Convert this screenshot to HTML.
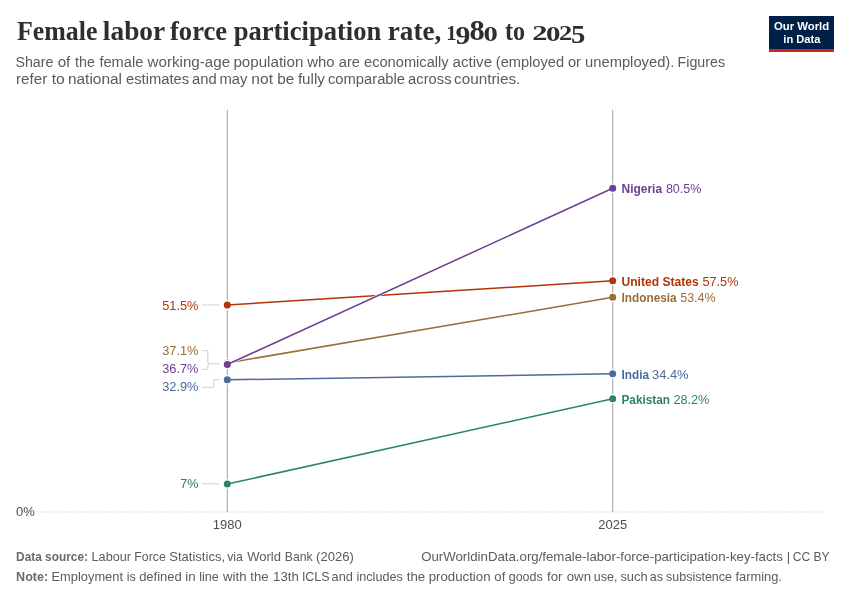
<!DOCTYPE html>
<html><head><meta charset="utf-8">
<style>
html,body{margin:0;padding:0;background:#fff;width:850px;height:600px;overflow:hidden}
svg{display:block;will-change:transform}
text{font-family:"Liberation Sans",sans-serif}
.serif{font-family:"Liberation Serif",serif}
</style></head>
<body>
<svg width="850" height="600" viewBox="0 0 850 600">
<rect width="850" height="600" fill="#fff"/>
<text x="16.96" y="40.2" font-size="26.5" fill="#2e2e2e" class="serif" font-weight="bold" textLength="80.47" lengthAdjust="spacingAndGlyphs">Female</text>
<text x="102.88" y="40.2" font-size="26.5" fill="#2e2e2e" class="serif" font-weight="bold" textLength="62.3" lengthAdjust="spacingAndGlyphs">labor</text>
<text x="170.0" y="40.2" font-size="26.5" fill="#2e2e2e" class="serif" font-weight="bold" textLength="57.19" lengthAdjust="spacingAndGlyphs">force</text>
<text x="233.65" y="40.2" font-size="26.5" fill="#2e2e2e" class="serif" font-weight="bold" textLength="147.63" lengthAdjust="spacingAndGlyphs">participation</text>
<text x="387.78" y="40.2" font-size="26.5" fill="#2e2e2e" class="serif" font-weight="bold" textLength="53.57" lengthAdjust="spacingAndGlyphs">rate,</text>
<text x="446.17" y="40.4" font-size="20.2" fill="#2e2e2e" class="serif" font-weight="bold" textLength="10.3" lengthAdjust="spacingAndGlyphs">1</text>
<text x="455.48" y="44.2" font-size="25.5" fill="#2e2e2e" class="serif" font-weight="bold" textLength="14.87" lengthAdjust="spacingAndGlyphs">9</text>
<text x="469.48" y="40.4" font-size="28.5" fill="#2e2e2e" class="serif" font-weight="bold" textLength="15.23" lengthAdjust="spacingAndGlyphs">8</text>
<text x="483.54" y="40.6" font-size="20.2" fill="#2e2e2e" class="serif" font-weight="bold" textLength="14.33" lengthAdjust="spacingAndGlyphs">0</text>
<text x="504.94" y="40.2" font-size="26.5" fill="#2e2e2e" class="serif" font-weight="bold" textLength="20.05" lengthAdjust="spacingAndGlyphs">to</text>
<text x="532.21" y="40.4" font-size="20.2" fill="#2e2e2e" class="serif" font-weight="bold" textLength="15.27" lengthAdjust="spacingAndGlyphs">2</text>
<text x="546.13" y="40.6" font-size="20.2" fill="#2e2e2e" class="serif" font-weight="bold" textLength="14.45" lengthAdjust="spacingAndGlyphs">0</text>
<text x="559.09" y="40.4" font-size="20.2" fill="#2e2e2e" class="serif" font-weight="bold" textLength="13.23" lengthAdjust="spacingAndGlyphs">2</text>
<text x="571.07" y="43.3" font-size="24.2" fill="#2e2e2e" class="serif" font-weight="bold" textLength="14.4" lengthAdjust="spacingAndGlyphs">5</text>
<text x="15.41" y="66.5" font-size="15.5" fill="#5b5b5b" textLength="38.09" lengthAdjust="spacingAndGlyphs">Share</text>
<text x="57.65" y="66.5" font-size="15.5" fill="#5b5b5b" textLength="12.64" lengthAdjust="spacingAndGlyphs">of</text>
<text x="74.97" y="66.5" font-size="15.5" fill="#5b5b5b" textLength="19.93" lengthAdjust="spacingAndGlyphs">the</text>
<text x="99.41" y="66.5" font-size="15.5" fill="#5b5b5b" textLength="43.92" lengthAdjust="spacingAndGlyphs">female</text>
<text x="147.6" y="66.5" font-size="15.5" fill="#5b5b5b" textLength="82.47" lengthAdjust="spacingAndGlyphs">working-age</text>
<text x="233.39" y="66.5" font-size="15.5" fill="#5b5b5b" textLength="69.95" lengthAdjust="spacingAndGlyphs">population</text>
<text x="307.3" y="66.5" font-size="15.5" fill="#5b5b5b" textLength="27.36" lengthAdjust="spacingAndGlyphs">who</text>
<text x="338.79" y="66.5" font-size="15.5" fill="#5b5b5b" textLength="21.13" lengthAdjust="spacingAndGlyphs">are</text>
<text x="363.99" y="66.5" font-size="15.5" fill="#5b5b5b" textLength="84.66" lengthAdjust="spacingAndGlyphs">economically</text>
<text x="452.57" y="66.5" font-size="15.5" fill="#5b5b5b" textLength="39.51" lengthAdjust="spacingAndGlyphs">active</text>
<text x="495.8" y="66.5" font-size="15.5" fill="#5b5b5b" textLength="68.26" lengthAdjust="spacingAndGlyphs">(employed</text>
<text x="567.88" y="66.5" font-size="15.5" fill="#5b5b5b" textLength="13.08" lengthAdjust="spacingAndGlyphs">or</text>
<text x="585.05" y="66.5" font-size="15.5" fill="#5b5b5b" textLength="89.3" lengthAdjust="spacingAndGlyphs">unemployed).</text>
<text x="677.52" y="66.5" font-size="15.5" fill="#5b5b5b" textLength="47.6" lengthAdjust="spacingAndGlyphs">Figures</text>
<text x="16.08" y="84.4" font-size="15.5" fill="#5b5b5b" textLength="31.09" lengthAdjust="spacingAndGlyphs">refer</text>
<text x="51.68" y="84.4" font-size="15.5" fill="#5b5b5b" textLength="13.07" lengthAdjust="spacingAndGlyphs">to</text>
<text x="67.95" y="84.4" font-size="15.5" fill="#5b5b5b" textLength="54.09" lengthAdjust="spacingAndGlyphs">national</text>
<text x="126.01" y="84.4" font-size="15.5" fill="#5b5b5b" textLength="63.16" lengthAdjust="spacingAndGlyphs">estimates</text>
<text x="192.11" y="84.4" font-size="15.5" fill="#5b5b5b" textLength="24.63" lengthAdjust="spacingAndGlyphs">and</text>
<text x="219.57" y="84.4" font-size="15.5" fill="#5b5b5b" textLength="27.88" lengthAdjust="spacingAndGlyphs">may</text>
<text x="251.34" y="84.4" font-size="15.5" fill="#5b5b5b" textLength="21.65" lengthAdjust="spacingAndGlyphs">not</text>
<text x="277.22" y="84.4" font-size="15.5" fill="#5b5b5b" textLength="16.96" lengthAdjust="spacingAndGlyphs">be</text>
<text x="297.9" y="84.4" font-size="15.5" fill="#5b5b5b" textLength="27.06" lengthAdjust="spacingAndGlyphs">fully</text>
<text x="327.96" y="84.4" font-size="15.5" fill="#5b5b5b" textLength="77.12" lengthAdjust="spacingAndGlyphs">comparable</text>
<text x="408.07" y="84.4" font-size="15.5" fill="#5b5b5b" textLength="43.47" lengthAdjust="spacingAndGlyphs">across</text>
<text x="454.06" y="84.4" font-size="15.5" fill="#5b5b5b" textLength="66.22" lengthAdjust="spacingAndGlyphs">countries.</text>
<rect x="769" y="16" width="65" height="33" fill="#002147"/>
<rect x="769" y="49" width="65" height="3" fill="#ce261e"/>
<text x="774" y="30.3" font-size="11.5" fill="#fff" font-weight="bold" textLength="55.2" lengthAdjust="spacingAndGlyphs">Our World</text>
<text x="783.3" y="43" font-size="11.5" fill="#fff" font-weight="bold" textLength="37.2" lengthAdjust="spacingAndGlyphs">in Data</text>
<line x1="39.5" y1="512" x2="823" y2="512" stroke="#ddd" stroke-width="1" stroke-dasharray="3,2"/>
<text x="16" y="516.2" font-size="13" fill="#4e4e4e">0%</text>
<line x1="227.3" y1="110" x2="227.3" y2="512" stroke="#a1a1a1" stroke-width="1"/>
<line x1="612.7" y1="110" x2="612.7" y2="512" stroke="#a1a1a1" stroke-width="1"/>
<text x="227.3" y="529.2" font-size="13" fill="#4e4e4e" text-anchor="middle">1980</text>
<text x="612.7" y="529.2" font-size="13" fill="#4e4e4e" text-anchor="middle">2025</text>
<g><circle cx="227.3" cy="484.03" r="4.7" fill="#fff"/><circle cx="612.7" cy="398.72" r="4.7" fill="#fff"/>
<line x1="227.3" y1="484.03" x2="612.7" y2="398.72" stroke="#fff" stroke-width="2.7"/>
<line x1="227.3" y1="484.03" x2="612.7" y2="398.72" stroke="#2c8465" stroke-width="1.5"/>
<circle cx="227.3" cy="484.03" r="3.5" fill="#2c8465"/><circle cx="612.7" cy="398.72" r="3.5" fill="#2c8465"/></g>
<g><circle cx="227.3" cy="379.81" r="4.7" fill="#fff"/><circle cx="612.7" cy="373.77" r="4.7" fill="#fff"/>
<line x1="227.3" y1="379.81" x2="612.7" y2="373.77" stroke="#fff" stroke-width="2.7"/>
<line x1="227.3" y1="379.81" x2="612.7" y2="373.77" stroke="#4c6a9c" stroke-width="1.5"/>
<circle cx="227.3" cy="379.81" r="3.5" fill="#4c6a9c"/><circle cx="612.7" cy="373.77" r="3.5" fill="#4c6a9c"/></g>
<g><circle cx="227.3" cy="362.91" r="4.7" fill="#fff"/><circle cx="612.7" cy="297.32" r="4.7" fill="#fff"/>
<line x1="227.3" y1="362.91" x2="612.7" y2="297.32" stroke="#fff" stroke-width="2.7"/>
<line x1="227.3" y1="362.91" x2="612.7" y2="297.32" stroke="#996d39" stroke-width="1.5"/>
<circle cx="227.3" cy="362.91" r="3.5" fill="#996d39"/><circle cx="612.7" cy="297.32" r="3.5" fill="#996d39"/></g>
<g><circle cx="227.3" cy="304.96" r="4.7" fill="#fff"/><circle cx="612.7" cy="280.82" r="4.7" fill="#fff"/>
<line x1="227.3" y1="304.96" x2="612.7" y2="280.82" stroke="#fff" stroke-width="2.7"/>
<line x1="227.3" y1="304.96" x2="612.7" y2="280.82" stroke="#b13507" stroke-width="1.5"/>
<circle cx="227.3" cy="304.96" r="3.5" fill="#b13507"/><circle cx="612.7" cy="280.82" r="3.5" fill="#b13507"/></g>
<g><circle cx="227.3" cy="364.52" r="4.7" fill="#fff"/><circle cx="612.7" cy="188.27" r="4.7" fill="#fff"/>
<line x1="227.3" y1="364.52" x2="612.7" y2="188.27" stroke="#fff" stroke-width="2.7"/>
<line x1="227.3" y1="364.52" x2="612.7" y2="188.27" stroke="#6d3e91" stroke-width="1.5"/>
<circle cx="227.3" cy="364.52" r="3.5" fill="#6d3e91"/><circle cx="612.7" cy="188.27" r="3.5" fill="#6d3e91"/></g>
<g stroke="#cfcfcf" stroke-width="1" fill="none">
<path d="M202 304.9H219.2"/>
<path d="M202 350.6H207.8V361.6Q207.8 363.8 209.8 363.8H219.2M202 369.3H207.8V366Q207.8 363.8 209.8 363.8"/>
<path d="M202 387.4H213.7V379.7H219.2"/>
<path d="M202 483.8H219.2"/>
</g>
<text x="162.2" y="309.5" font-size="13" fill="#b13507" textLength="36.2" lengthAdjust="spacingAndGlyphs">51.5%</text>
<text x="162.2" y="355.0" font-size="13" fill="#996d39" textLength="36.2" lengthAdjust="spacingAndGlyphs">37.1%</text>
<text x="162.2" y="372.9" font-size="13" fill="#6d3e91" textLength="36.2" lengthAdjust="spacingAndGlyphs">36.7%</text>
<text x="162.2" y="391.3" font-size="13" fill="#4c6a9c" textLength="36.2" lengthAdjust="spacingAndGlyphs">32.9%</text>
<text x="180.20000000000002" y="488.1" font-size="13" fill="#2c8465" textLength="18.2" lengthAdjust="spacingAndGlyphs">7%</text>
<text x="621.5" y="193.20000000000002" font-size="13" fill="#6d3e91" font-weight="bold" textLength="40.6" lengthAdjust="spacingAndGlyphs">Nigeria</text>
<text x="665.9" y="193.20000000000002" font-size="13" fill="#6d3e91" textLength="35.6" lengthAdjust="spacingAndGlyphs">80.5%</text>
<text x="621.5" y="285.7" font-size="13" fill="#b13507" font-weight="bold" textLength="77.3" lengthAdjust="spacingAndGlyphs">United States</text>
<text x="702.4" y="285.7" font-size="13" fill="#b13507" textLength="36.1" lengthAdjust="spacingAndGlyphs">57.5%</text>
<text x="621.5" y="301.7" font-size="13" fill="#996d39" font-weight="bold" textLength="55.2" lengthAdjust="spacingAndGlyphs">Indonesia</text>
<text x="680.2" y="301.7" font-size="13" fill="#996d39" textLength="35.5" lengthAdjust="spacingAndGlyphs">53.4%</text>
<text x="621.5" y="378.9" font-size="13" fill="#4c6a9c" font-weight="bold" textLength="27.6" lengthAdjust="spacingAndGlyphs">India</text>
<text x="652.0" y="378.9" font-size="13" fill="#4c6a9c" textLength="36.6" lengthAdjust="spacingAndGlyphs">34.4%</text>
<text x="621.5" y="403.5" font-size="13" fill="#2c8465" font-weight="bold" textLength="48.4" lengthAdjust="spacingAndGlyphs">Pakistan</text>
<text x="673.4" y="403.5" font-size="13" fill="#2c8465" textLength="35.9" lengthAdjust="spacingAndGlyphs">28.2%</text>
<text x="16.1" y="560.8" font-size="13" fill="#6a6a6a" font-weight="bold" textLength="71.9" lengthAdjust="spacingAndGlyphs">Data source:</text>
<text x="91.58" y="560.8" font-size="13" fill="#5b5b5b" textLength="39.44" lengthAdjust="spacingAndGlyphs">Labour</text>
<text x="134.37" y="560.8" font-size="13" fill="#5b5b5b" textLength="31.41" lengthAdjust="spacingAndGlyphs">Force</text>
<text x="169.22" y="560.8" font-size="13" fill="#5b5b5b" textLength="55.83" lengthAdjust="spacingAndGlyphs">Statistics,</text>
<text x="227.16" y="560.8" font-size="13" fill="#5b5b5b" textLength="15.71" lengthAdjust="spacingAndGlyphs">via</text>
<text x="247.16" y="560.8" font-size="13" fill="#5b5b5b" textLength="33.84" lengthAdjust="spacingAndGlyphs">World</text>
<text x="284.74" y="560.8" font-size="13" fill="#5b5b5b" textLength="28.01" lengthAdjust="spacingAndGlyphs">Bank</text>
<text x="316.08" y="560.8" font-size="13" fill="#5b5b5b" textLength="37.72" lengthAdjust="spacingAndGlyphs">(2026)</text>
<text x="421.19" y="560.8" font-size="13" fill="#5b5b5b" textLength="361.69" lengthAdjust="spacingAndGlyphs">OurWorldinData.org/female-labor-force-participation-key-facts</text>
<text x="788.5" y="560.8" font-size="13" fill="#5b5b5b" text-anchor="middle">|</text>
<text x="792.8" y="560.8" font-size="13" fill="#5b5b5b" textLength="36.81" lengthAdjust="spacingAndGlyphs">CC BY</text>
<text x="16.1" y="580.8" font-size="13" fill="#6a6a6a" font-weight="bold" textLength="32.1" lengthAdjust="spacingAndGlyphs">Note:</text>
<text x="51.56" y="580.8" font-size="13" fill="#5b5b5b" textLength="71.43" lengthAdjust="spacingAndGlyphs">Employment</text>
<text x="126.65" y="580.8" font-size="13" fill="#5b5b5b" textLength="9.01" lengthAdjust="spacingAndGlyphs">is</text>
<text x="139.15" y="580.8" font-size="13" fill="#5b5b5b" textLength="42.6" lengthAdjust="spacingAndGlyphs">defined</text>
<text x="185.28" y="580.8" font-size="13" fill="#5b5b5b" textLength="10.31" lengthAdjust="spacingAndGlyphs">in</text>
<text x="199.17" y="580.8" font-size="13" fill="#5b5b5b" textLength="19.7" lengthAdjust="spacingAndGlyphs">line</text>
<text x="223.04" y="580.8" font-size="13" fill="#5b5b5b" textLength="23.55" lengthAdjust="spacingAndGlyphs">with</text>
<text x="250.3" y="580.8" font-size="13" fill="#5b5b5b" textLength="18.28" lengthAdjust="spacingAndGlyphs">the</text>
<text x="273.04" y="580.8" font-size="13" fill="#5b5b5b" textLength="25.77" lengthAdjust="spacingAndGlyphs">13th</text>
<text x="301.88" y="580.8" font-size="13" fill="#5b5b5b" textLength="27.73" lengthAdjust="spacingAndGlyphs">ICLS</text>
<text x="331.56" y="580.8" font-size="13" fill="#5b5b5b" textLength="21.26" lengthAdjust="spacingAndGlyphs">and</text>
<text x="356.47" y="580.8" font-size="13" fill="#5b5b5b" textLength="46.36" lengthAdjust="spacingAndGlyphs">includes</text>
<text x="406.8" y="580.8" font-size="13" fill="#5b5b5b" textLength="18.38" lengthAdjust="spacingAndGlyphs">the</text>
<text x="428.71" y="580.8" font-size="13" fill="#5b5b5b" textLength="61.84" lengthAdjust="spacingAndGlyphs">production</text>
<text x="494.32" y="580.8" font-size="13" fill="#5b5b5b" textLength="11.04" lengthAdjust="spacingAndGlyphs">of</text>
<text x="508.72" y="580.8" font-size="13" fill="#5b5b5b" textLength="33.98" lengthAdjust="spacingAndGlyphs">goods</text>
<text x="547.03" y="580.8" font-size="13" fill="#5b5b5b" textLength="15.45" lengthAdjust="spacingAndGlyphs">for</text>
<text x="566.75" y="580.8" font-size="13" fill="#5b5b5b" textLength="24.29" lengthAdjust="spacingAndGlyphs">own</text>
<text x="593.87" y="580.8" font-size="13" fill="#5b5b5b" textLength="23.57" lengthAdjust="spacingAndGlyphs">use,</text>
<text x="620.45" y="580.8" font-size="13" fill="#5b5b5b" textLength="27.15" lengthAdjust="spacingAndGlyphs">such</text>
<text x="649.71" y="580.8" font-size="13" fill="#5b5b5b" textLength="13.17" lengthAdjust="spacingAndGlyphs">as</text>
<text x="666.09" y="580.8" font-size="13" fill="#5b5b5b" textLength="65.86" lengthAdjust="spacingAndGlyphs">subsistence</text>
<text x="735.5" y="580.8" font-size="13" fill="#5b5b5b" textLength="46.44" lengthAdjust="spacingAndGlyphs">farming.</text>
</svg>
</body></html>
